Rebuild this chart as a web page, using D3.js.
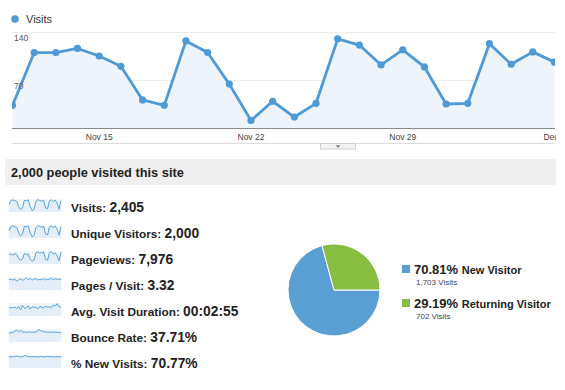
<!DOCTYPE html>
<html>
<head>
<meta charset="utf-8">
<script src="https://cdn.jsdelivr.net/npm/d3@7"></script>
<style>
  body { margin: 0; background: #fff; }
  svg { font-family: Arial, "Liberation Sans", sans-serif; }
</style>
</head>
<body>
<div id="chart"></div>
<script>
// daily visits, Nov 11 - Dec 6
var visits = [33, 110, 110, 116, 105, 90, 41, 33, 127, 110, 64, 11, 39, 16, 36, 130, 121, 92, 114, 89, 35, 36, 123, 93, 111, 96];
var yTicks = [70, 140];
var dateTicks = ["Nov 15", "Nov 22", "Nov 29", "Dec 6"];

var metricNames = ["Visits", "Unique Visitors", "Pageviews", "Pages / Visit", "Avg. Visit Duration", "Bounce Rate", "% New Visits"];
var metricValues = ["2,405", "2,000", "7,976", "3.32", "00:02:55", "37.71%", "70.77%"];

var sparkVisits = [55, 86, 90, 84, 80, 40, 18, 30, 88, 84, 90, 40, 10, 22, 78, 92, 86, 80, 88, 30, 24, 82, 90, 78, 88, 66, 20, 85];
var sparkUniques = [52, 84, 88, 82, 78, 38, 16, 28, 86, 82, 88, 38, 10, 20, 76, 90, 84, 78, 86, 28, 22, 80, 88, 76, 86, 64, 20, 83];
var sparkPageviews = [70, 76, 66, 78, 72, 40, 30, 38, 80, 70, 76, 36, 22, 30, 82, 92, 80, 84, 88, 34, 28, 86, 92, 74, 82, 60, 24, 90];
var sparkPages = [60, 64, 58, 62, 52, 60, 66, 56, 62, 72, 60, 68, 58, 64, 66, 58, 62, 60, 66, 58, 64, 62, 70, 58, 66, 62, 64, 60];
var sparkDuration = [50, 56, 52, 58, 48, 62, 40, 70, 50, 54, 66, 44, 60, 56, 58, 46, 62, 58, 52, 66, 56, 60, 54, 72, 64, 80, 60, 58];
var sparkBounce = [46, 48, 50, 56, 62, 54, 60, 52, 52, 50, 51, 52, 50, 52, 51, 60, 64, 54, 56, 50, 52, 51, 50, 52, 50, 51, 50, 50];
var sparkNew = [50, 51, 50, 52, 54, 52, 50, 51, 56, 54, 52, 51, 50, 52, 51, 50, 51, 52, 50, 51, 53, 51, 52, 50, 51, 52, 50, 51];
var sparks = [sparkVisits, sparkUniques, sparkPageviews, sparkPages, sparkDuration, sparkBounce, sparkNew];

var pieLabels = ["New Visitor", "Returning Visitor"];
var piePercents = ["70.81%", "29.19%"];
var pieVisits = [1703, 702];
var pieColors = ["#5a9fd4", "#87bd41"];

var lineColor = "#4f9ad6";
var width = 565, height = 390;

var svg = d3.select("#chart").append("svg")
  .attr("width", width).attr("height", height);

// ---- top line chart ----
var x = d3.scaleTime()
  .domain([new Date(2012, 10, 11), new Date(2012, 11, 6)])
  .range([12.5, 554.5]);
var y = d3.scaleLinear().domain([0, 140]).range([128, 32]);

var defs = svg.append("defs");
defs.append("clipPath").attr("id", "clip")
  .append("rect").attr("x", 12).attr("y", 20).attr("width", 543).attr("height", 120);
defs.append("clipPath").attr("id", "labclip")
  .append("rect").attr("x", 0).attr("y", 128).attr("width", 556).attr("height", 20);

// legend
svg.append("circle").attr("cx", 15).attr("cy", 19).attr("r", 3.8).attr("fill", lineColor);
svg.append("text").attr("x", 26).attr("y", 23).attr("font-size", 11).attr("fill", "#333").text("Visits");

// grid
svg.selectAll(".grid").data(yTicks).enter().append("line")
  .attr("x1", 12).attr("x2", 555)
  .attr("y1", function(d) { return y(d) + 0.5; }).attr("y2", function(d) { return y(d) + 0.5; })
  .attr("stroke", "#ececec");

var days = visits.map(function(v, i) { return new Date(2012, 10, 11 + i); });

var area = d3.area()
  .x(function(d, i) { return x(days[i]); })
  .y0(y(0)).y1(function(d) { return y(d); });
var line = d3.line()
  .x(function(d, i) { return x(days[i]); })
  .y(function(d) { return y(d); });

var plot = svg.append("g").attr("clip-path", "url(#clip)");
plot.append("path").datum(visits).attr("d", area).attr("fill", "#edf4fb");
plot.append("path").datum(visits).attr("d", line)
  .attr("fill", "none").attr("stroke", lineColor).attr("stroke-width", 2.8).attr("stroke-linejoin", "round");
plot.selectAll(".dot").data(visits).enter().append("circle")
  .attr("cx", function(d, i) { return x(days[i]); })
  .attr("cy", function(d) { return y(d); })
  .attr("r", 3.6).attr("fill", lineColor);

svg.selectAll(".ylab").data(yTicks).enter().append("text")
  .attr("x", 14).attr("y", function(d) { return y(d) + 9; })
  .attr("font-size", 8.5).attr("fill", "#555").text(function(d) { return d; });

// x axis
svg.append("line").attr("x1", 12).attr("x2", 555).attr("y1", 128.5).attr("y2", 128.5)
  .attr("stroke", "#8a8a8a").attr("stroke-width", 1);
var tickDates = [new Date(2012, 10, 15), new Date(2012, 10, 22), new Date(2012, 10, 29), new Date(2012, 11, 6)];
svg.append("g").attr("clip-path", "url(#labclip)")
  .selectAll(".xlab").data(dateTicks).enter().append("text")
  .attr("x", function(d, i) { return x(tickDates[i]); }).attr("y", 139.5)
  .attr("text-anchor", "middle").attr("font-size", 8.5).attr("fill", "#444")
  .text(function(d) { return d; });
svg.append("line").attr("x1", 12).attr("x2", 555).attr("y1", 143.5).attr("y2", 143.5)
  .attr("stroke", "#dcdcdc");
svg.append("rect").attr("x", 320.5).attr("y", 143.5).attr("width", 35).attr("height", 5.5)
  .attr("fill", "#f3f3f3").attr("stroke", "#cfcfcf");
svg.append("path").attr("d", "M335.5,145.5 L340.5,145.5 L338,147.5 Z").attr("fill", "#666");

// ---- header bar ----
svg.append("rect").attr("x", 5).attr("y", 159).attr("width", 551).attr("height", 26)
  .attr("rx", 2).attr("fill", "#efefef");
svg.append("text").attr("x", 11).attr("y", 176.5).attr("font-size", 12.8).attr("font-weight", "bold")
  .attr("fill", "#222").text("2,000 people visited this site");

// ---- metrics with sparklines ----
var rows = svg.selectAll(".metric").data(metricNames).enter().append("g")
  .attr("transform", function(d, i) { return "translate(0," + (207 + i * 26) + ")"; });

rows.each(function(d, i) {
  var g = d3.select(this);
  var data = sparks[i];
  var sx = d3.scaleLinear().domain([0, data.length - 1]).range([9, 61]);
  var sy = d3.scaleLinear().domain([0, d3.max(data) * 1.05]).range([5, -8]);
  g.append("rect").attr("x", 8.5).attr("y", -8).attr("width", 53).attr("height", 13).attr("fill", "#f1f7fc");
  g.append("path").datum(data)
    .attr("d", d3.area().x(function(v, k) { return sx(k); }).y0(5).y1(function(v) { return sy(v); }))
    .attr("fill", "#e3eef9");
  g.append("path").datum(data)
    .attr("d", d3.line().x(function(v, k) { return sx(k); }).y(function(v) { return sy(v); }))
    .attr("fill", "none").attr("stroke", "#5aa2d8").attr("stroke-width", 1);
  var t = g.append("text").attr("x", 71).attr("y", 5).attr("font-weight", "bold").attr("fill", "#222");
  t.append("tspan").attr("font-size", 11.8).text(d + ": ");
  t.append("tspan").attr("font-size", 13.8).text(metricValues[i]);
});

// ---- pie ----
var pie = d3.pie().sort(null).startAngle(Math.PI / 2).endAngle(Math.PI / 2 + 2 * Math.PI);
var arc = d3.arc().innerRadius(0).outerRadius(46);
svg.append("g").attr("transform", "translate(334,290)")
  .selectAll("path").data(pie(pieVisits)).enter().append("path")
  .attr("d", arc).attr("fill", function(d, i) { return pieColors[i]; })
  .attr("stroke", "#fff").attr("stroke-width", 1);

var legend = svg.selectAll(".leg").data(pieLabels).enter().append("g")
  .attr("transform", function(d, i) { return "translate(402," + (274 + i * 34) + ")"; });
legend.append("rect").attr("x", 0).attr("y", -9).attr("width", 8).attr("height", 8)
  .attr("fill", function(d, i) { return pieColors[i]; });
var lt = legend.append("text").attr("x", 12).attr("y", 0).attr("font-weight", "bold").attr("fill", "#222");
lt.append("tspan").attr("font-size", 13).text(function(d, i) { return piePercents[i] + " "; });
lt.append("tspan").attr("font-size", 11).text(function(d) { return d; });
legend.append("text").attr("x", 14).attr("y", 11).attr("font-size", 8).attr("fill", "#445")
  .text(function(d, i) { return d3.format(",")(pieVisits[i]) + " Visits"; });
</script>
</body>
</html>
